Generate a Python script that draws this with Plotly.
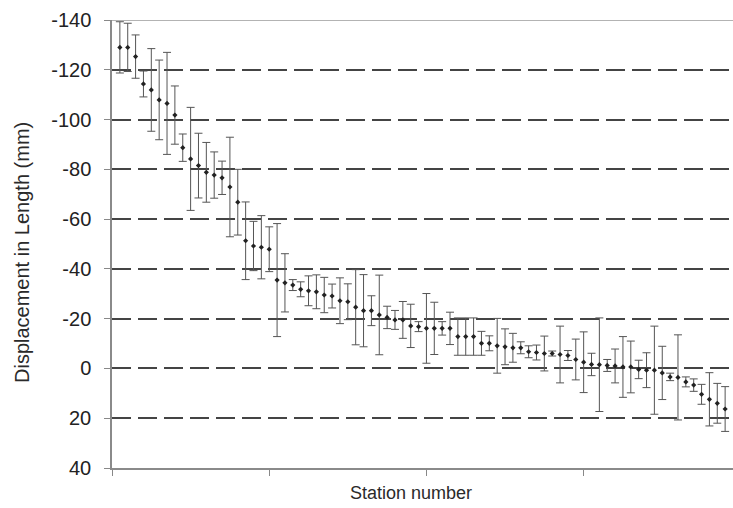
import plotly.graph_objects as go

# Displacement in length (mm) per survey station, with measurement uncertainty
station = list(range(1, 79))
displacement = [
    -129.0, -129.0, -125.3, -114.3, -111.9, -107.9, -106.5, -101.8, -88.7, -84.2,
    -81.5, -78.8, -77.7, -76.6, -72.9, -66.8, -51.3, -49.2, -48.7, -47.9,
    -35.5, -34.4, -33.5, -31.8, -31.2, -30.8, -29.5, -29.1, -27.2, -26.8,
    -24.6, -23.2, -23.2, -21.5, -20.5, -19.5, -19.5, -17.1, -16.8, -16.1,
    -16.1, -16.1, -16.1, -12.8, -12.8, -12.8, -10.1, -10.1, -9.1, -8.7,
    -8.3, -8.3, -6.7, -6.4, -6.0, -6.0, -5.6, -5.2, -3.6, -2.5,
    -1.6, -1.5, -1.2, -1.0, -0.6, -0.6, 0.4, 0.7, 0.7, 1.8,
    3.4, 3.6, 5.4, 6.7, 10.4, 12.4, 14.0, 16.3,
]
uncertainty = [
    10.3, 9.7, 8.7, 5.2, 16.6, 16.0, 20.5, 11.7, 5.5, 20.7,
    13.0, 12.0, 9.3, 6.7, 20.0, 13.2, 15.6, 9.9, 12.7, 9.0,
    22.7, 11.7, 2.2, 3.0, 6.0, 6.8, 7.1, 4.8, 9.2, 7.2,
    15.1, 14.5, 6.0, 16.0, 4.5, 3.8, 7.4, 8.7, 2.0, 14.0,
    10.5, 2.7, 6.5, 7.5, 7.5, 7.5, 4.8, 3.0, 11.0, 7.2,
    5.8, 2.4, 2.4, 3.0, 7.0, 1.0, 11.4, 2.0, 8.2, 12.2,
    4.5, 18.8, 2.4, 6.8, 12.2, 10.4, 3.7, 7.0, 17.7, 10.7,
    1.5, 17.1, 2.0, 2.5, 4.0, 10.7, 8.0, 9.0,
]
y_ticks = [-140, -120, -100, -80, -60, -40, -20, 0, 20, 40]
x_ticks = [0, 20, 40, 60]

FONT = "Liberation Sans, Arial, sans-serif"

fig = go.Figure(
    go.Scatter(
        x=station,
        y=displacement,
        mode="markers",
        marker=dict(symbol="diamond", size=4, color="#222222"),
        error_y=dict(
            type="data",
            array=uncertainty,
            symmetric=True,
            color="#555555",
            thickness=1,
            width=4,
        ),
        showlegend=False,
    )
)

# solid frame line along the top of the plotting area
fig.add_shape(
    type="line", xref="paper", yref="y",
    x0=0, x1=1, y0=-140, y1=-140,
    line=dict(color="#9a9a9a", width=1.5),
)

# axis captions
fig.add_annotation(
    text="Station number", xref="paper", yref="paper",
    x=0.482, y=0, yshift=-25, yanchor="middle", showarrow=False,
    font=dict(size=18, family=FONT, color="#2a2a2a"),
)
fig.add_annotation(
    text="Displacement in Length (mm)", xref="paper", yref="paper",
    x=0, xshift=-90, y=0.5, yshift=-9, xanchor="center", yanchor="middle",
    textangle=-90, showarrow=False,
    font=dict(size=20, family=FONT, color="#2a2a2a"),
)

fig.update_layout(
    width=733,
    height=508,
    margin=dict(l=112, r=0, t=20, b=40),
    paper_bgcolor="white",
    plot_bgcolor="white",
    font=dict(family=FONT, color="#222222"),
    xaxis=dict(
        range=[0, 79],
        tickvals=x_ticks,
        showticklabels=False,
        ticks="outside",
        ticklen=6,
        tickcolor="#888888",
        showgrid=False,
        zeroline=False,
        showline=True,
        linecolor="#8a8a8a",
        linewidth=1.5,
    ),
    yaxis=dict(
        range=[40, -140],
        tickvals=y_ticks,
        ticktext=[str(v) for v in y_ticks],
        tickfont=dict(size=20, family=FONT, color="#222222"),
        ticks="outside",
        ticklen=6,
        tickcolor="#888888",
        ticklabelstandoff=9,
        showgrid=True,
        gridcolor="#444444",
        gridwidth=2,
        griddash="19px,7px",
        zeroline=False,
        showline=True,
        linecolor="#8a8a8a",
        linewidth=1.5,
    ),
)

fig.write_html("out.html")
